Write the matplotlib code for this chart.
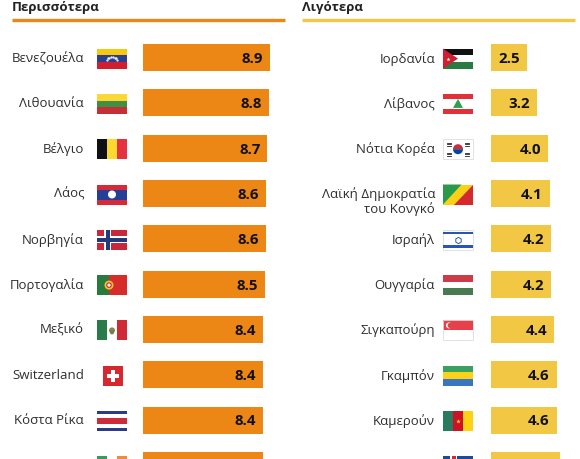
import numpy as np
import matplotlib
matplotlib.use("Agg")
import matplotlib.pyplot as plt
from matplotlib.patches import Rectangle, Polygon, Circle, Wedge

plt.rcParams['font.family'] = ['Open Sans', 'DejaVu Sans']

# data
left_title = "Περισσότερα"
right_title = "Λιγότερα"
left_countries = ["Βενεζουέλα", "Λιθουανία", "Βέλγιο", "Λάος", "Νορβηγία",
                  "Πορτογαλία", "Μεξικό", "Switzerland", "Κόστα Ρίκα", "Ιρλανδία"]
left_values = [8.9, 8.8, 8.7, 8.6, 8.6, 8.5, 8.4, 8.4, 8.4, 8.4]
left_flags = ["ve", "lt", "be", "la", "no", "pt", "mx", "ch", "cr", "ie"]
right_countries = ["Ιορδανία", "Λίβανος", "Νότια Κορέα", "Λαϊκή Δημοκρατία\nτου Κονγκό",
                   "Ισραήλ", "Ουγγαρία", "Σιγκαπούρη", "Γκαμπόν", "Καμερούν", "Ισλανδία"]
right_values = [2.5, 3.2, 4.0, 4.1, 4.2, 4.2, 4.4, 4.6, 4.6, 4.8]
right_flags = ["jo", "lb", "kr", "cg", "il", "hu", "sg", "ga", "cm", "is"]

ORANGE = "#ec8614"
YELLOW = "#f2c744"
TEXT = "#2e2e2e"

# layout (pixels, y grows downward)
ROW0, ROW_STEP, BAR_H = 58.6, 45.3, 27
PX_PER_UNIT = 14.3
FLAG_W, FLAG_H = 30, 20
LINE_PX = 14


def hstripes(ax, x0, y0, w, h, colors, weights=None):
    weights = weights or [1] * len(colors)
    tot = sum(weights)
    y = y0
    for c, wt in zip(colors, weights):
        hh = h * wt / tot
        ax.add_patch(Rectangle((x0, y), w, hh, color=c, lw=0))
        y += hh


def vstripes(ax, x0, y0, w, h, colors, weights=None):
    weights = weights or [1] * len(colors)
    tot = sum(weights)
    x = x0
    for c, wt in zip(colors, weights):
        ww = w * wt / tot
        ax.add_patch(Rectangle((x, y0), ww, h, color=c, lw=0))
        x += ww


def cross(ax, x0, y0, w, h, bg, outer, inner, cx_frac=0.36):
    ax.add_patch(Rectangle((x0, y0), w, h, color=bg, lw=0))
    cx = x0 + w * cx_frac
    cy = y0 + h / 2
    ax.add_patch(Rectangle((cx - 3.5, y0), 7, h, color=outer, lw=0))
    ax.add_patch(Rectangle((x0, cy - 3.5), w, 7, color=outer, lw=0))
    ax.add_patch(Rectangle((cx - 1.7, y0), 3.4, h, color=inner, lw=0))
    ax.add_patch(Rectangle((x0, cy - 1.7), w, 3.4, color=inner, lw=0))


def draw_flag(ax, code, x0, yc):
    w, h = FLAG_W, FLAG_H
    y0 = yc - h / 2
    if code == "ve":
        hstripes(ax, x0, y0, w, h, ["#f6c90e", "#2c3e8f", "#cf1f30"])
        ang = np.linspace(np.pi * 0.15, np.pi * 0.85, 8)
        ax.plot(x0 + w / 2 + 6 * np.cos(ang), yc + 3 - 4.5 * np.sin(ang), ls="none",
                marker="o", ms=0.6, color="white")
    elif code == "lt":
        hstripes(ax, x0, y0, w, h, ["#fdd835", "#3f8f45", "#c62f35"])
    elif code == "be":
        vstripes(ax, x0, y0, w, h, ["#111111", "#fcd930", "#e63140"])
    elif code == "la":
        hstripes(ax, x0, y0, w, h, ["#d6293a", "#243f95", "#d6293a"], [1, 2, 1])
        ax.add_patch(Circle((x0 + w / 2, yc), 4, color="white", lw=0))
    elif code == "no":
        cross(ax, x0, y0, w, h, "#c8283a", "white", "#233a7a")
    elif code == "pt":
        vstripes(ax, x0, y0, w, h, ["#2a7a3e", "#d62d2b"], [2, 3])
        ax.add_patch(Circle((x0 + w * 0.4, yc), 4.5, color="#f2c230", lw=0))
        ax.add_patch(Circle((x0 + w * 0.4, yc), 2.8, color="#d62d2b", lw=0))
        ax.add_patch(Circle((x0 + w * 0.4, yc), 1.6, color="white", lw=0))
    elif code == "mx":
        vstripes(ax, x0, y0, w, h, ["#2a7a4a", "white", "#cf2a36"])
        ax.add_patch(Circle((x0 + w / 2, yc), 3, color="#9a7a4a", lw=0))
        ax.add_patch(Circle((x0 + w / 2, yc + 2), 2, color="#5a8a4a", lw=0))
    elif code == "ch":
        s = h
        xs = x0 + (w - s) / 2 + 1
        ax.add_patch(Rectangle((xs, y0), s, s, color="#d7282f", lw=0))
        ax.add_patch(Rectangle((xs + s / 2 - 2, y0 + 4), 4, s - 8, color="white", lw=0))
        ax.add_patch(Rectangle((xs + 4, y0 + s / 2 - 2), s - 8, 4, color="white", lw=0))
    elif code == "cr":
        hstripes(ax, x0, y0, w, h, ["#2a3c88", "white", "#cd2a3a", "white", "#2a3c88"],
                 [1, 1, 2, 1, 1])
    elif code == "ie":
        vstripes(ax, x0, y0, w, h, ["#3a9a5a", "white", "#f08a3a"])
    elif code == "jo":
        hstripes(ax, x0, y0, w, h, ["#111111", "white", "#2a7a44"])
        ax.add_patch(Polygon([(x0, y0), (x0 + w * 0.5, yc), (x0, y0 + h)],
                             closed=True, color="#cf1f30", lw=0))
        ax.plot([x0 + 4.5], [yc], marker="*", ms=3, color="white", mew=0)
    elif code == "lb":
        hstripes(ax, x0, y0, w, h, ["#e0303a", "white", "#e0303a"], [1, 2, 1])
        ax.add_patch(Polygon([(x0 + w / 2, yc - 5), (x0 + w / 2 - 5, yc + 4),
                              (x0 + w / 2 + 5, yc + 4)], closed=True, color="#2aa050", lw=0))
    elif code == "kr":
        ax.add_patch(Rectangle((x0, y0), w, h, facecolor="white", edgecolor="#dddddd", lw=0.6))
        cx = x0 + w / 2
        ax.add_patch(Wedge((cx, yc), 5, 180, 360, color="#cd2e3a", lw=0))
        ax.add_patch(Wedge((cx, yc), 5, 0, 180, color="#0047a0", lw=0))
        for dx, dy in [(-9, -5), (9, -5), (-9, 5), (9, 5)]:
            for k in (-1.5, 0, 1.5):
                ax.plot([cx + dx - 2.2, cx + dx + 2.2],
                        [yc + dy + k, yc + dy + k], color="#222222", lw=0.6)
    elif code == "cg":
        ax.add_patch(Rectangle((x0, y0), w, h, color="#fbd116", lw=0))
        ax.add_patch(Polygon([(x0, y0), (x0 + w * 0.62, y0), (x0, y0 + h)],
                             closed=True, color="#2a9a4a", lw=0))
        ax.add_patch(Polygon([(x0 + w, y0), (x0 + w, y0 + h), (x0 + w * 0.38, y0 + h)],
                             closed=True, color="#d6282f", lw=0))
    elif code == "il":
        ax.add_patch(Rectangle((x0, y0), w, h, facecolor="white", edgecolor="#dddddd", lw=0.6))
        ax.add_patch(Rectangle((x0, y0 + 2), w, 2.5, color="#2a55b8", lw=0))
        ax.add_patch(Rectangle((x0, y0 + h - 4.5), w, 2.5, color="#2a55b8", lw=0))
        ax.plot([x0 + w / 2], [yc], marker="h", ms=4.5, mfc="none", mec="#2a55b8", mew=0.7)
    elif code == "hu":
        hstripes(ax, x0, y0, w, h, ["#cd3a48", "white", "#4a7a50"])
    elif code == "sg":
        hstripes(ax, x0, y0, w, h, ["#e8404a", "white"])
        ax.add_patch(Rectangle((x0, y0), w, h, facecolor="none", edgecolor="#dddddd", lw=0.6))
        ax.add_patch(Circle((x0 + 6, y0 + 5), 3, color="white", lw=0))
        ax.add_patch(Circle((x0 + 7.3, y0 + 5), 2.7, color="#e8404a", lw=0))
    elif code == "ga":
        hstripes(ax, x0, y0, w, h, ["#3aa060", "#fcd116", "#3a75c4"])
    elif code == "cm":
        vstripes(ax, x0, y0, w, h, ["#2a7a5e", "#ce1126", "#fcd116"])
        ax.plot([x0 + w / 2], [yc], marker="*", ms=3.5, color="#fcd116", mew=0)
    elif code == "is":
        cross(ax, x0, y0, w, h, "#1f4a9a", "white", "#d6283a")


fig = plt.figure(figsize=(5.8, 4.6), dpi=100)
ax = fig.add_axes([0, 0, 1, 1])
ax.set_xlim(0, 580)
ax.set_ylim(460, 0)
ax.axis("off")

rows = ROW0 + ROW_STEP * np.arange(len(left_values))

panels = [
    (left_title, left_countries, left_values, left_flags, ORANGE, 12, 285, 84, 97, 143),
    (right_title, right_countries, right_values, right_flags, YELLOW, 302, 575, 435, 443, 491),
]
for title, names, vals, flags, color, tx0, tx1, lab_x, flag_x, bar_x in panels:
    ax.text(tx0, 7, title, fontsize=9.5, fontweight="bold", color="#222222",
            ha="left", va="center")
    ax.plot([tx0, tx1], [20.5, 20.5], color=color, lw=2.4, solid_capstyle="butt")

    widths = np.array(vals) * PX_PER_UNIT
    ax.barh(rows, widths, left=bar_x, height=BAR_H, color=color, lw=0)
    for y, wd, v in zip(rows, widths, vals):
        ax.text(bar_x + wd - 7, y + 0.5, f"{v:.1f}", fontsize=10.8, fontweight="bold",
                color="#111111", ha="right", va="center")
    for y, name, code in zip(rows, names, flags):
        # first line of a wrapped label stays level with the bar
        shift = (name.count("\n")) * LINE_PX / 2
        ax.text(lab_x, y + shift, name, fontsize=9.5, color=TEXT, ha="right",
                va="center", linespacing=1.15)
        draw_flag(ax, code, flag_x, y + 1)

fig.savefig("out.png", dpi=100)
